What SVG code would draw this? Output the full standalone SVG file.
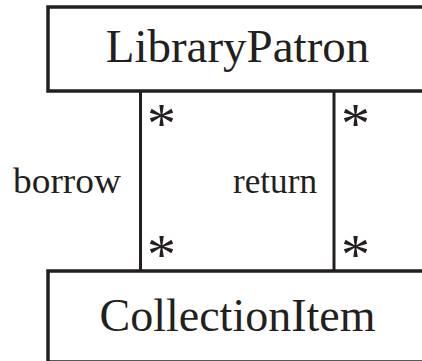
<svg xmlns="http://www.w3.org/2000/svg" width="422" height="361" viewBox="0 0 422 361">
<style>
.box{fill:#fff;stroke:#231f20;stroke-width:3.5}
.ln{stroke:#231f20;stroke-width:3;fill:none}
.t{font-family:"Liberation Serif","Times New Roman",serif;fill:#231f20}
.name{font-size:47px;text-anchor:middle}
.lbl{font-size:36.5px}
.m{font-size:58px}
</style>
<rect width="422" height="361" fill="#fff"/>
<g id="connectors">
<line class="ln" x1="140.5" y1="91" x2="140.5" y2="271"/>
<line class="ln" x1="334" y1="91" x2="334" y2="271"/>
<text class="t lbl" x="13" y="193" textLength="108" lengthAdjust="spacingAndGlyphs">borrow</text>
<text class="t lbl" x="233" y="193" textLength="84" lengthAdjust="spacingAndGlyphs">return</text>
<text class="t m" x="147" y="143">*</text>
<text class="t m" x="147" y="274">*</text>
<text class="t m" x="341" y="143">*</text>
<text class="t m" x="341" y="274">*</text>
</g>
<g id="LibraryPatron">
<rect class="box" x="48" y="7" width="390" height="84"/>
<text class="t name" x="237.5" y="62">LibraryPatron</text>
</g>
<g id="CollectionItem">
<rect class="box" x="48" y="271" width="390" height="91"/>
<text class="t name" x="237.5" y="331" style="font-size:46px">CollectionItem</text>
</g>
</svg>
